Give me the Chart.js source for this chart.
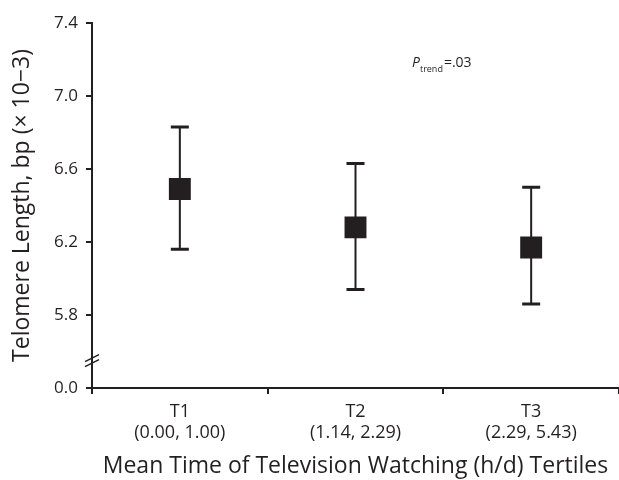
<!DOCTYPE html>
<html>
<head>
<meta charset="utf-8">
<script src="https://cdn.jsdelivr.net/npm/chart.js@4"></script>
<style>
  body { margin: 0; background: #fff; }
  #wrap { width: 619px; height: 480px; }
</style>
</head>
<body>
<div id="wrap"><canvas id="myChart" width="619" height="480"></canvas></div>
<script>
let ctx = document.getElementById('myChart')

// tertiles of tv time
let tertiles = ['T1', 'T2', 'T3']
let ranges = ['(0.00, 1.00)', '(1.14, 2.29)', '(2.29, 5.43)']
// telomere length (x 10^-3 bp)
let means = [6.49, 6.28, 6.17]
let upper = [6.83, 6.63, 6.50]
let lower = [6.16, 5.94, 5.86]
// y ticks, the lowest one stands for 0.0 after the axis break
let yTicks = [5.4, 5.8, 6.2, 6.6, 7.0, 7.4]
let breakAt = 5.55

let ink = '#231f20'
let font = 'Open Sans'

// error bars, drawn under the squares
let errorBars = {
    id: 'errorBars',
    beforeDatasetsDraw(chart) {
        let c = chart.ctx
        let x = chart.scales.x
        let y = chart.scales.y
        c.save()
        c.strokeStyle = ink
        means.forEach((m, i) => {
            let px = x.getPixelForValue(i)
            let top = y.getPixelForValue(upper[i])
            let bot = y.getPixelForValue(lower[i])
            c.lineWidth = 2
            c.beginPath()
            c.moveTo(px, top)
            c.lineTo(px, bot)
            c.stroke()
            c.lineWidth = 3
            c.beginPath()
            c.moveTo(px - 9, top)
            c.lineTo(px + 9, top)
            c.moveTo(px - 9, bot)
            c.lineTo(px + 9, bot)
            c.stroke()
        })
        c.restore()
    }
}

// axis break marks + p trend text
let extras = {
    id: 'extras',
    afterDraw(chart) {
        let c = chart.ctx
        let y = chart.scales.y
        let ax = chart.chartArea.left
        let by = y.getPixelForValue(breakAt)
        c.save()
        c.strokeStyle = ink
        c.lineWidth = 1.5
        c.beginPath()
        c.moveTo(ax - 7, by + 1)
        c.lineTo(ax + 7, by - 6)
        c.moveTo(ax - 7, by + 6)
        c.lineTo(ax + 7, by - 1)
        c.stroke()

        c.fillStyle = ink
        c.textBaseline = 'alphabetic'
        c.font = 'italic 14px "' + font + '"'
        c.fillText('P', 412, 67)
        let w = c.measureText('P').width
        c.font = '9px "' + font + '"'
        c.fillText('trend', 412 + w, 72)
        let w2 = c.measureText('trend').width
        c.font = '14px "' + font + '"'
        c.fillText('=.03', 412 + w + w2 + 1, 67)
        c.restore()
    }
}

new Chart(ctx, {
    type: 'line',
    data: {
        labels: tertiles.map((t, i) => [t, ranges[i]]),
        datasets: [{
            data: means,
            showLine: false,
            pointStyle: 'rect',
            pointRadius: 15.5,
            pointHoverRadius: 15.5,
            backgroundColor: ink,
            borderColor: ink,
            borderWidth: 0
        }]
    },
    options: {
        responsive: false,
        animation: false,
        events: [],
        layout: { autoPadding: false, padding: { top: 23, right: 0, bottom: 0, left: 0 } },
        plugins: { legend: { display: false }, tooltip: { enabled: false } },
        scales: {
            x: {
                offset: true,
                grid: { offset: true, drawOnChartArea: false, color: ink, lineWidth: 2, tickLength: 6 },
                border: { color: ink, width: 2 },
                ticks: { color: ink, font: { family: font, size: 18, lineHeight: 1.15 }, padding: 8, maxRotation: 0 },
                title: {
                    display: true,
                    text: 'Mean Time of Television Watching (h/d) Tertiles',
                    color: ink,
                    font: { family: font, size: 23 },
                    padding: 0
                },
                afterFit(scale) {
                    scale.height = 92
                    scale.paddingLeft = 0
                    scale.paddingRight = 0
                }
            },
            y: {
                min: 5.4,
                max: 7.4,
                afterBuildTicks(scale) {
                    scale.ticks = yTicks.map(v => ({ value: v }))
                },
                grid: { drawOnChartArea: false, color: ink, lineWidth: 2, tickLength: 6 },
                border: { color: ink, width: 2 },
                ticks: {
                    color: ink,
                    font: { family: font, size: 17 },
                    padding: 8,
                    callback: v => v == 5.4 ? '0.0' : v.toFixed(1)
                },
                title: {
                    display: true,
                    text: 'Telomere Length, bp (\u00d7 10\u22123)',
                    color: ink,
                    font: { family: font, size: 23 },
                    padding: { top: 9, bottom: 0 }
                },
                afterFit(scale) {
                    scale.width = 92
                    scale.paddingTop = 0
                    scale.paddingBottom = 0
                }
            }
        }
    },
    plugins: [errorBars, extras]
})
</script>
</body>
</html>
